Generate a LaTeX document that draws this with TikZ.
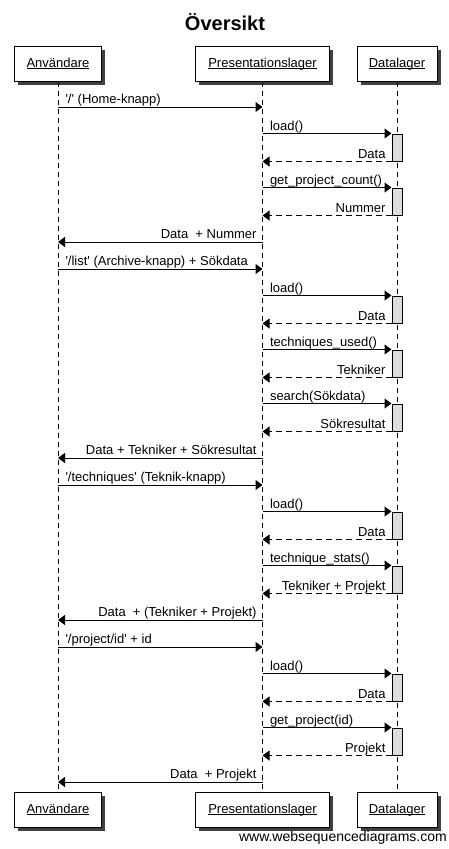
\documentclass[tikz,border=0pt]{standalone}
\usepackage{fontspec}
\setmainfont{Liberation Sans}
\usetikzlibrary{arrows.meta,shadows}
\newcommand{\sq}{\textquotesingle}
\newcommand{\ulx}[1]{\leavevmode\setbox0=\hbox{#1}\rlap{\copy0}\raisebox{-2.2pt}{\rule{\wd0}{0.9pt}}}
\begin{document}
\begin{tikzpicture}[x=1pt,y=-1pt,
  actor/.style={draw,line width=1pt,fill=white,minimum height=35pt,inner sep=0pt,
    font=\fontsize{13}{15}\selectfont,
    drop shadow={shadow xshift=3.5pt,shadow yshift=-3.5pt,fill=black!75,opacity=1}},
  life/.style={line width=1pt,dash pattern=on 5pt off 4pt},
  act/.style={draw,line width=1pt,fill=black!13,minimum width=10pt,minimum height=27pt,inner sep=0pt},
  msg/.style={line width=1pt,-{Triangle[length=7pt,width=10pt]}},
  ret/.style={msg,dash pattern=on 6pt off 4pt},
  lbl/.style={font=\fontsize{13}{15}\selectfont,inner sep=0pt},
  lcall/.style={lbl,pos=0,anchor=base west,xshift=7pt,yshift=3.5pt},
  lret/.style={lbl,pos=0,anchor=base east,xshift=-5.5pt,yshift=3.5pt},
  aname/.style={lbl,anchor=base}]
\useasboundingbox (0,0) rectangle (449,849);
\fill[white] (0,0) rectangle (449,849);

\node[font=\bfseries\fontsize{20}{24}\selectfont,inner sep=0pt,anchor=base] (title) at (225,30) {Översikt};

\node[actor,minimum width=87pt] (A) at (58,63.5) {};
\node[actor,minimum width=134pt] (P) at (262.5,63.5) {};
\node[actor,minimum width=80pt] (D) at (397,63.5) {};
\node[actor,minimum width=87pt] (Ab) at (58,809.5) {};
\node[actor,minimum width=134pt] (Pb) at (262.5,809.5) {};
\node[actor,minimum width=80pt] (Db) at (397,809.5) {};
\node[aname] (tA) at ([yshift=-3.5pt]A.center) {\ulx{Användare}};
\node[aname] (tP) at ([yshift=-3.5pt]P.center) {\ulx{Presentationslager}};
\node[aname] (tD) at ([yshift=-3.5pt]D.center) {\ulx{Datalager}};
\node[aname] (tAb) at ([yshift=-3.5pt]Ab.center) {\ulx{Användare}};
\node[aname] (tPb) at ([yshift=-3.5pt]Pb.center) {\ulx{Presentationslager}};
\node[aname] (tDb) at ([yshift=-3.5pt]Db.center) {\ulx{Datalager}};

\draw[life] (A.south) -- (Ab.north);
\draw[life] (P.south) -- (Pb.north);
\draw[life] (D.south) -- (Db.north);

\node[act] (d1) at (397,147.5) {};
\node[act] (d2) at (397,201.5) {};
\node[act] (d3) at (397,309.5) {};
\node[act] (d4) at (397,363.5) {};
\node[act] (d5) at (397,417.5) {};
\node[act] (d6) at (397,525.5) {};
\node[act] (d7) at (397,579.5) {};
\node[act] (d8) at (397,687.5) {};
\node[act] (d9) at (397,741.5) {};

\draw[msg] (A |- 0,107) -- node[lcall] {\sq/\sq\ (Home-knapp)} (P |- 0,107);
\draw[msg] (P |- d1.north) -- node[lcall] {load()} (d1.north west);
\draw[ret] (d1.south west) -- node[lret] {Data} (P |- d1.south);
\draw[msg] (P |- d2.north) -- node[lcall] {get\_project\_count()} (d2.north west);
\draw[ret] (d2.south west) -- node[lret] {Nummer} (P |- d2.south);
\draw[msg] (P |- 0,242) -- node[lret] {Data\ \ + Nummer} (A |- 0,242);

\draw[msg] (A |- 0,269) -- node[lcall] {\sq/list\sq\ (Archive-knapp) + Sökdata} (P |- 0,269);
\draw[msg] (P |- d3.north) -- node[lcall] {load()} (d3.north west);
\draw[ret] (d3.south west) -- node[lret] {Data} (P |- d3.south);
\draw[msg] (P |- d4.north) -- node[lcall] {techniques\_used()} (d4.north west);
\draw[ret] (d4.south west) -- node[lret] {Tekniker} (P |- d4.south);
\draw[msg] (P |- d5.north) -- node[lcall] {search(Sökdata)} (d5.north west);
\draw[ret] (d5.south west) -- node[lret] {Sökresultat} (P |- d5.south);
\draw[msg] (P |- 0,458) -- node[lret] {Data + Tekniker + Sökresultat} (A |- 0,458);

\draw[msg] (A |- 0,485) -- node[lcall] {\sq/techniques\sq\ (Teknik-knapp)} (P |- 0,485);
\draw[msg] (P |- d6.north) -- node[lcall] {load()} (d6.north west);
\draw[ret] (d6.south west) -- node[lret] {Data} (P |- d6.south);
\draw[msg] (P |- d7.north) -- node[lcall] {technique\_stats()} (d7.north west);
\draw[ret] (d7.south west) -- node[lret] {Tekniker + Projekt} (P |- d7.south);
\draw[msg] (P |- 0,620) -- node[lret] {Data\ \ + (Tekniker + Projekt)} (A |- 0,620);

\draw[msg] (A |- 0,647) -- node[lcall] {\sq/project/id\sq\ + id} (P |- 0,647);
\draw[msg] (P |- d8.north) -- node[lcall] {load()} (d8.north west);
\draw[ret] (d8.south west) -- node[lret] {Data} (P |- d8.south);
\draw[msg] (P |- d9.north) -- node[lcall] {get\_project(id)} (d9.north west);
\draw[ret] (d9.south west) -- node[lret] {Projekt} (P |- d9.south);
\draw[msg] (P |- 0,782) -- node[lret] {Data\ \ + Projekt} (A |- 0,782);

\node[font=\fontsize{14}{16}\selectfont,inner sep=0pt,anchor=base east] (wm) at (447,841) {www.websequencediagrams.com};
\end{tikzpicture}
\end{document}
